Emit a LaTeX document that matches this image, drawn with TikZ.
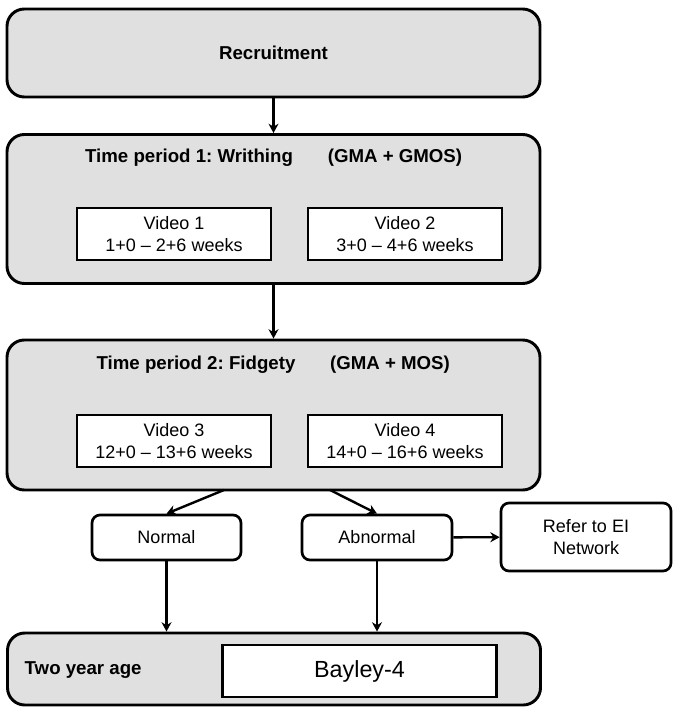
\documentclass[tikz,border=0pt]{standalone}
\usepackage{fontspec}
\setmainfont{Liberation Sans}
\usetikzlibrary{positioning, arrows.meta}
\definecolor{panelgray}{RGB}{224,224,224}
\frenchspacing

\begin{document}
\begin{tikzpicture}[x=0.75pt, y=-0.75pt,
                stage/.style={draw, line width=2.2pt, rounded corners=13pt,
                              fill=panelgray, minimum width=399.75pt, inner sep=0pt},
                video/.style={draw, line width=2.2pt, fill=white, align=center,
                              minimum width=145.5pt, minimum height=39pt, inner sep=0pt,
                              font=\fontsize{13.5}{17}\selectfont},
                result/.style={draw, line width=2pt, rounded corners=6pt, fill=white,
                               align=center, inner sep=0pt,
                               font=\fontsize{13.5}{16.5}\selectfont},
                ttl/.style={font=\fontsize{14}{17}\selectfont\bfseries},
                arr/.style={-{Stealth[length=7pt, width=7.5pt]}, line width=1.8pt},
            ]
                \useasboundingbox (0,0) rectangle (680,712);

                % Recruitment
                \node[stage, minimum height=66pt, ttl] (recruit) at (273.5,53) {Recruitment};

                % Time period 1
                \node[stage, minimum height=111.75pt] (tp1) at (273.5,209) {};
                \node[ttl] (tp1name) at (189,158) {Time period 1: Writhing};
                \node[ttl] (tp1tests) at (395,158) {(GMA + GMOS)};
                \node[video] (vid1) at (174,234) {Video 1\\1+0 -- 2+6 weeks};
                \node[video] (vid2) at (405,234) {Video 2\\3+0 -- 4+6 weeks};

                % Time period 2
                \node[stage, minimum height=112.5pt] (tp2) at (273.5,415) {};
                \node[ttl] (tp2name) at (196,365) {Time period 2: Fidgety};
                \node[ttl] (tp2tests) at (390,365) {(GMA + MOS)};
                \node[video] (vid3) at (174,441) {Video 3\\12+0 -- 13+6 weeks};
                \node[video] (vid4) at (405,441) {Video 4\\14+0 -- 16+6 weeks};

                % Outcome
                \node[result, minimum width=111.75pt, minimum height=33.75pt] (normal) at (166.5,537.5) {Normal};
                \node[result, minimum width=112.5pt, minimum height=33.75pt] (abnormal) at (377,537.5) {Abnormal};
                \node[result, minimum width=127.5pt, minimum height=51pt] (refer) at (586,537) {Refer to EI\\Network};

                % Two year follow up
                \node[stage, minimum height=54pt] (age) at (274,669) {};
                \node[ttl, anchor=west] (agename) at (20,670) {Two year age};
                \node[video, minimum width=206pt, font=\fontsize{17.5}{20}\selectfont] (bayley) at (359.5,671) {Bayley-4};

                % Arrows
                \coordinate (splitN) at (224,490);
                \coordinate (splitA) at (330,490);
                \draw[arr] (recruit) -- (tp1);
                \draw[arr] (tp1) -- (tp2);
                \draw[arr] (splitN) -- (normal.north);
                \draw[arr] (splitA) -- (abnormal.north);
                \draw[arr] (abnormal) -- (refer);
                \draw[arr] (normal) -- (normal |- age.north);
                \draw[arr] (abnormal) -- (abnormal |- age.north);
            \end{tikzpicture}
\end{document}
